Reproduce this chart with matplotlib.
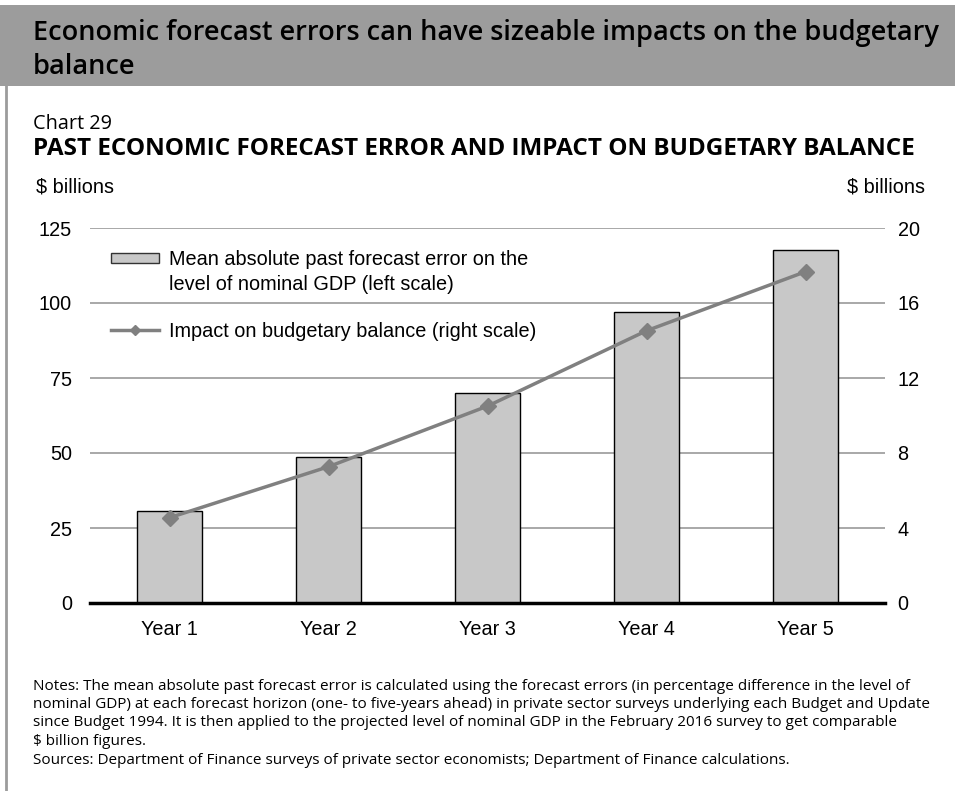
import matplotlib
matplotlib.use("Agg")
import matplotlib.pyplot as plt
from matplotlib.patches import Patch, Rectangle
from matplotlib.lines import Line2D

categories = ["Year 1", "Year 2", "Year 3", "Year 4", "Year 5"]
gdp_error = [30.6, 48.6, 70.1, 97.0, 117.8]  # left scale, $ billions
budget_impact = [4.55, 7.27, 10.5, 14.52, 17.67]  # right scale, $ billions
left_ticks = [0, 25, 50, 75, 100, 125]
right_ticks = [0, 4, 8, 12, 16, 20]

notes_lines = [
    "Notes: The mean absolute past forecast error is calculated using the forecast errors (in percentage difference in the level of",
    "nominal GDP) at each forecast horizon (one- to five-years ahead) in private sector surveys underlying each Budget and Update",
    "since Budget 1994. It is then applied to the projected level of nominal GDP in the February 2016 survey to get comparable",
    "$ billion figures.",
]
sources = "Sources: Department of Finance surveys of private sector economists; Department of Finance calculations."

W, H = 955, 791
fig = plt.figure(figsize=(W / 100, H / 100), dpi=100)
fig.patch.set_facecolor("white")

# header band and left border
fig.patches.append(Rectangle((0, 1 - 86 / H), 1, 81 / H, transform=fig.transFigure,
                             facecolor="#9c9c9c", edgecolor="none", zorder=0))
fig.add_artist(Line2D([6 / W, 6 / W], [0, 1 - 86 / H], transform=fig.transFigure,
                      color="#9c9c9c", lw=2))

serif = "Open Sans"
fig.text(33 / W, 1 - 40 / H, "Economic forecast errors can have sizeable impacts on the budgetary",
         fontsize=19.55, fontfamily=serif, fontweight="semibold", va="baseline")
fig.text(33 / W, 1 - 74 / H, "balance",
         fontsize=19.55, fontfamily=serif, fontweight="semibold", va="baseline")
fig.text(33 / W, 1 - 129 / H, "Chart 29", fontsize=14.3, fontfamily=serif, va="baseline")
fig.text(33 / W, 1 - 155 / H, "PAST ECONOMIC FORECAST ERROR AND IMPACT ON BUDGETARY BALANCE",
         fontsize=17.5, fontfamily=serif, fontweight="bold", va="baseline")

arial = "Liberation Sans"
fs = 14.3
fig.text(36 / W, 1 - 192 / H, "$ billions", fontsize=fs, fontfamily=arial, va="baseline")
fig.text(925 / W, 1 - 192 / H, "$ billions", fontsize=fs, fontfamily=arial, va="baseline", ha="right")

ax = fig.add_axes([90 / W, 1 - 603 / H, 795 / W, 375 / H])
x = range(len(categories))
ax.bar(x, gdp_error, width=0.41, color="#c8c8c8", edgecolor="black", linewidth=1, zorder=2)
ax.set_xlim(-0.5, len(categories) - 0.5)
ax.set_ylim(0, 125)
ax.set_yticks(left_ticks)
ax.set_xticks(list(x))
ax.set_xticklabels(categories)
ax.yaxis.grid(True, color="#9a9a9a", linewidth=1.2, zorder=0)
ax.set_axisbelow(True)
for s in ["top", "left", "right"]:
    ax.spines[s].set_visible(False)
ax.spines["bottom"].set_linewidth(2.5)
ax.spines["bottom"].set_zorder(3)
ax.tick_params(axis="both", length=0, labelsize=fs)
ax.tick_params(axis="y", pad=13)
ax.tick_params(axis="x", pad=12)
for lbl in ax.get_xticklabels() + ax.get_yticklabels():
    lbl.set_fontfamily(arial)

ax2 = ax.twinx()
ax2.plot(x, budget_impact, color="#808080", linewidth=2.5, marker="D", markersize=8, zorder=4)
ax2.set_ylim(0, 20)
ax2.set_yticks(right_ticks)
for s in ["top", "left", "right", "bottom"]:
    ax2.spines[s].set_visible(False)
ax2.tick_params(axis="y", length=0, labelsize=fs, pad=9)
for lbl in ax2.get_yticklabels():
    lbl.set_fontfamily(arial)

# legend
bar_handles = [Patch(facecolor="#c8c8c8", edgecolor="#333333", linewidth=1),
               Patch(facecolor="none", edgecolor="none")]
leg1 = ax2.legend(bar_handles, ["Mean absolute past forecast error on the",
                                "level of nominal GDP (left scale)"],
                  loc="upper left", bbox_to_anchor=(0.016, 0.962), frameon=False,
                  handlelength=2.45, handleheight=0.45, handletextpad=0.5, labelspacing=0.3,
                  prop={"family": arial, "size": fs}, borderaxespad=0)
ax2.add_artist(leg1)
line_handle = [Line2D([], [], color="#808080", linewidth=2.5, marker="D", markersize=5)]
ax2.legend(line_handle, ["Impact on budgetary balance (right scale)"],
           loc="upper left", bbox_to_anchor=(0.016, 0.771), frameon=False,
           handlelength=2.45, handletextpad=0.5,
           prop={"family": arial, "size": fs}, borderaxespad=0)

for i, line in enumerate(notes_lines):
    fig.text(33 / W, 1 - (690 + 18.2 * i) / H, line, fontsize=11, fontfamily=serif, va="baseline")
fig.text(33 / W, 1 - 764 / H, sources, fontsize=11, fontfamily=serif, va="baseline")

fig.savefig("out.png", dpi=100, facecolor="white")
